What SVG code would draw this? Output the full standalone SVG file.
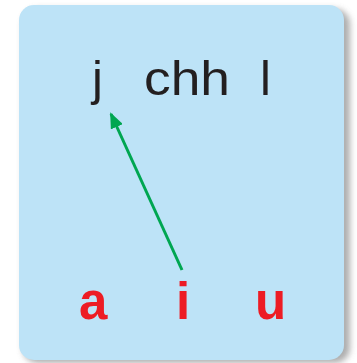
<svg xmlns="http://www.w3.org/2000/svg" width="357" height="363" viewBox="0 0 357 363">
<defs>
<filter id="sh" x="-10%" y="-10%" width="130%" height="130%">
<feGaussianBlur stdDeviation="3"/>
</filter>
<marker id="ah" markerWidth="16" markerHeight="13" refX="14" refY="6.5" orient="auto" markerUnits="userSpaceOnUse" viewBox="0 0 16 13">
<path d="M0,0 L16,6.5 L0,13 Z" fill="#00a651"/>
</marker>
<style>
.top{font-family:"Liberation Sans",Arial,sans-serif;font-size:49px;fill:#231f20;}
.red{font-family:"Liberation Sans",Arial,sans-serif;font-size:51px;font-weight:bold;fill:#ed1c24;}
</style>
</defs>
<rect width="357" height="363" fill="#ffffff"/>
<rect x="23" y="9" width="327" height="354" rx="15" fill="#9a9a9a" filter="url(#sh)" opacity="0.8"/>
<g id="panel">
<rect x="19" y="5" width="325" height="355" rx="15" fill="#bde3f7"/>
</g>
<g id="top-letters">
<text class="top" x="92" y="95">j</text>
<text class="top" x="144" y="95" textLength="86" lengthAdjust="spacingAndGlyphs">chh</text>
<text class="top" x="260" y="95">l</text>
</g>
<g id="vowels">
<text class="red" x="79" y="319">a</text>
<text class="red" x="176" y="319">i</text>
<text class="red" x="255" y="319">u</text>
</g>
<g id="connectors">
<line x1="182" y1="270" x2="111" y2="114" stroke="#00a651" stroke-width="3" marker-end="url(#ah)"/>
</g>
</svg>
